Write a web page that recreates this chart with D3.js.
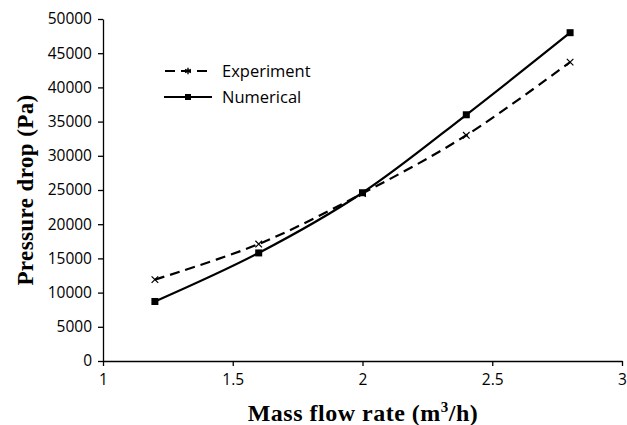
<!DOCTYPE html>
<html><head><meta charset="utf-8">
<script src="https://cdn.jsdelivr.net/npm/d3@7"></script>
<style>html,body{margin:0;padding:0;background:#fff;}</style>
</head><body>
<svg id="c" width="627" height="425"></svg>
<script>
const flowRates = [1.2, 1.6, 2.0, 2.4, 2.8];
const experiment = [11900, 17100, 24500, 33000, 43700];
const numerical = [8700, 15800, 24600, 36000, 48000];
const xTicks = [1, 1.5, 2, 2.5, 3];
const yTicks = [0, 5000, 10000, 15000, 20000, 25000, 30000, 35000, 40000, 45000, 50000];
const seriesNames = ["Experiment", "Numerical"];

const svg = d3.select("#c");
const x = d3.scaleLinear().domain([1, 3]).range([103, 622]);
const y = d3.scaleLinear().domain([0, 50000]).range([361, 19]);
const tickFont = "'Open Sans', sans-serif";

const xAxis = svg.append("g").attr("transform", "translate(0,361)")
  .call(d3.axisBottom(x).tickValues(xTicks).tickFormat(d3.format("")).tickSize(5).tickSizeOuter(0));
const yAxis = svg.append("g").attr("transform", "translate(103,0)")
  .call(d3.axisLeft(y).tickValues(yTicks).tickFormat(d3.format("")).tickSize(5).tickSizeOuter(0));
[xAxis, yAxis].forEach(a => {
  a.selectAll("path,line").attr("stroke", "#000").attr("stroke-width", 1.3);
  a.selectAll("text").attr("font-family", tickFont).attr("font-size", 15.5).attr("fill", "#000");
});
xAxis.selectAll("text").attr("dy", "0.71em").attr("y", 13);
yAxis.selectAll("text").attr("x", -11);

const curve = d3.curveCatmullRom.alpha(0.5);
const line = d3.line().x(d => x(d[0])).y(d => y(d[1])).curve(curve);
const expData = flowRates.map((f, i) => [f, experiment[i]]);
const numData = flowRates.map((f, i) => [f, numerical[i]]);

svg.append("path").datum(expData).attr("d", line).attr("fill", "none")
  .attr("stroke", "#000").attr("stroke-width", 2.2).attr("stroke-dasharray", "10,6");
svg.append("path").datum(numData).attr("d", line).attr("fill", "none")
  .attr("stroke", "#000").attr("stroke-width", 2.2);

const cross = d3.symbol().type(d3.symbolX).size(30);
svg.selectAll(".xm").data(expData).enter().append("path")
  .attr("transform", d => `translate(${x(d[0])},${y(d[1])})`)
  .attr("d", cross).attr("fill", "none").attr("stroke", "#000").attr("stroke-width", 1.2);
svg.selectAll(".sq").data(numData).enter().append("rect")
  .attr("x", d => x(d[0]) - 3.5).attr("y", d => y(d[1]) - 3.5)
  .attr("width", 7).attr("height", 7).attr("fill", "#000");

// legend
const lg = svg.append("g");
lg.append("line").attr("x1", 164).attr("x2", 212).attr("y1", 71).attr("y2", 71)
  .attr("stroke", "#000").attr("stroke-width", 2.2).attr("stroke-dasharray", "10,6").attr("stroke-dashoffset", -1);
lg.append("path").attr("transform", "translate(188,71)").attr("d", d3.symbol().type(d3.symbolAsterisk).size(30))
  .attr("fill", "none").attr("stroke", "#000").attr("stroke-width", 1.4);
lg.append("line").attr("x1", 164).attr("x2", 212).attr("y1", 97).attr("y2", 97)
  .attr("stroke", "#000").attr("stroke-width", 2.2);
lg.append("rect").attr("x", 185).attr("y", 94).attr("width", 6).attr("height", 6).attr("fill", "#000");
lg.selectAll(".lt").data(seriesNames).enter().append("text")
  .attr("x", 222).attr("y", (d, i) => 71 + i * 26).attr("dy", "0.35em")
  .attr("font-family", tickFont).attr("font-size", 16.5).attr("fill", "#000").text(d => d);

// axis titles
const titleFont = "'Liberation Serif', 'Times New Roman', serif";
const xt = svg.append("text").attr("x", 363).attr("y", 421).attr("text-anchor", "middle")
  .attr("font-family", titleFont).attr("font-weight", "bold").attr("font-size", 24)
  .attr("letter-spacing", 0.5).attr("fill", "#000");
xt.append("tspan").text("Mass flow rate (m");
xt.append("tspan").text("3").attr("font-size", 15).attr("dy", -9);
xt.append("tspan").text("/h)").attr("dy", 9);

svg.append("text").attr("transform", "translate(33,190) rotate(-90)").attr("text-anchor", "middle")
  .attr("font-family", titleFont).attr("font-weight", "bold").attr("font-size", 23)
  .attr("letter-spacing", 0.4).attr("fill", "#000").text("Pressure drop (Pa)");
</script>
</body></html>
